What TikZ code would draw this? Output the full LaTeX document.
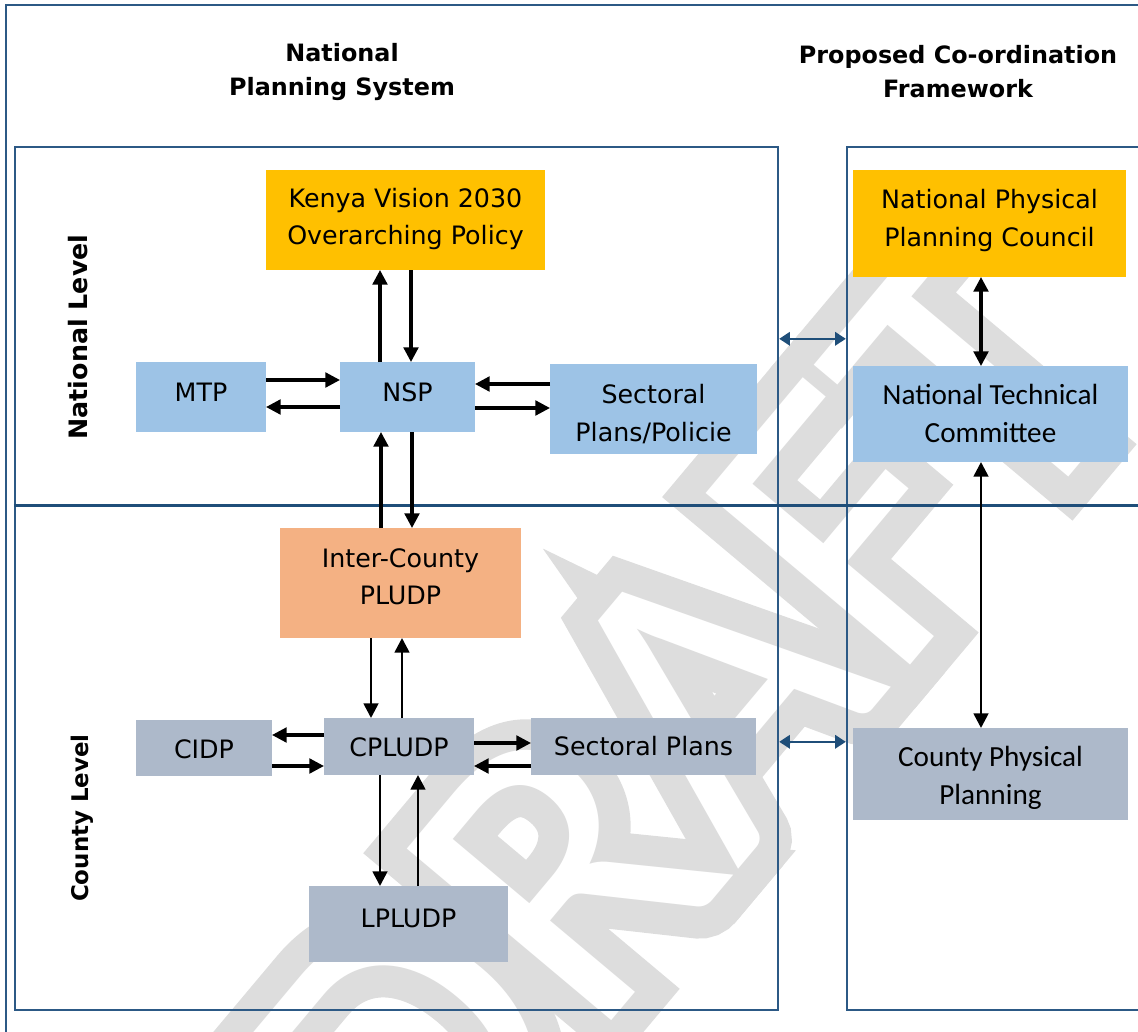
\documentclass[tikz,border=0pt]{standalone}
\usepackage{fontspec}
\setmainfont{DejaVu Sans}
\newfontfamily\calfont{Carlito}
\newfontfamily\wmfont{Carlito}
\newfontfamily\wmbold[FakeBold=15]{Carlito}
\usetikzlibrary{arrows.meta,calc}
\definecolor{gold}{HTML}{FFC000}
\definecolor{lblue}{HTML}{9DC3E6}
\definecolor{gblue}{HTML}{ADB9CA}
\definecolor{orng}{HTML}{F4B183}
\definecolor{panel}{HTML}{2C5985}
\definecolor{divider}{HTML}{1F4E79}
\definecolor{wmgray}{HTML}{DDDDDD}
\tikzset{
  box/.style={rectangle, inner sep=0pt, outer sep=0pt},
  txt/.style={inner sep=0pt, align=center, font=\fontsize{19}{28}\selectfont},
  caltxt/.style={txt, font=\calfont\fontsize{21.9}{28.5}\selectfont},
  title/.style={align=center, inner sep=0pt, font=\bfseries\fontsize{17.9}{25.5}\selectfont},
  side/.style={rotate=90, inner sep=0pt, font=\bfseries\fontsize{19}{19}\selectfont},
  panelbox/.style={rectangle, draw=panel, line width=1.8pt, inner sep=0pt},
  arr/.style={-{Triangle[length=11pt,width=11pt]}, line width=2.4pt},
  dbl/.style={{Triangle[length=11pt,width=11pt]}-{Triangle[length=11pt,width=11pt]}, line width=2.4pt},
  blu/.style={{Triangle[length=8pt,width=10pt]}-{Triangle[length=8pt,width=10pt]}, draw=divider, line width=1.6pt},
}
\begin{document}
\begin{tikzpicture}[x=0.75pt,y=-0.75pt]
\useasboundingbox (0,0) rectangle (1138,1031);
% watermark (outlined letters)
\node[rotate=50, anchor=base west, inner sep=0pt, font=\fontsize{312}{312}\selectfont] (wm) at (428,1240)
  {\wmbold\textcolor{wmgray}{DRAFT}\llap{\wmfont\textcolor{white}{DRAFT}}};
% outer frame
\draw[draw=panel, line width=1.8pt] (6,1040) -- (6,5) -- (1145,5);
% panels
\node[panelbox, minimum width=572.25pt, minimum height=647.25pt] (lpanel) at (396.5,578.5) {};
\node[panelbox, minimum width=234.75pt, minimum height=647.25pt] (rpanel) at (1003.5,578.5) {};
\draw[draw=divider, line width=2.3pt] ($(lpanel.north west)+(0,360)$) -- ++(1150,0);
% titles
\node[title] (t1) at (342,72) {National\\Planning System};
\node[title] (t2) at (958,72) {Proposed Co-ordination\\Framework};
\node[side] (s1) at (78,337) {National Level};
\node[side, font=\bfseries\fontsize{17.2}{17.2}\selectfont] (s2) at (82,818) {County Level};
% boxes
\node[box, fill=gold, minimum width=209.25pt, minimum height=75pt] (kenya) at (405.5,220) {};
\node[txt] (kenya-t) at ($(kenya)+(0,-1)$) {Kenya Vision 2030\\Overarching Policy};
\node[box, fill=gold, minimum width=204.75pt, minimum height=80.25pt] (nppc) at (989.5,223.5) {};
\node[txt] (nppc-t) at ($(nppc)+(0,-3)$) {National Physical\\Planning Council};
\node[box, fill=lblue, minimum width=97.5pt, minimum height=52.5pt] (mtp) at (201,397) {};
\node[txt] (mtp-t) at ($(mtp)+(0,-5)$) {MTP};
\node[box, fill=lblue, minimum width=101.25pt, minimum height=52.5pt] (nsp) at (407.5,397) {};
\node[txt] (nsp-t) at ($(nsp)+(0,-5)$) {NSP};
\node[box, fill=lblue, minimum width=155.25pt, minimum height=67.5pt] (secp) at (653.5,409) {};
\node[txt] (secp-t) at ($(secp)+(0,5)$) {Sectoral\\Plans/Policie};
\node[box, fill=lblue, minimum width=206.25pt, minimum height=72pt] (ntc) at (990.5,414) {};
\node[caltxt] (ntc-t) at ($(ntc)+(0,-1)$) {National Technical\\Committee};
\node[box, fill=orng, minimum width=180.75pt, minimum height=82.5pt] (inter) at (400.5,583) {};
\node[txt] (inter-t) at ($(inter)+(0,-6)$) {Inter-County\\PLUDP};
\node[box, fill=gblue, minimum width=102pt, minimum height=42pt] (cidp) at (204,748) {};
\node[txt] (cidp-t) at ($(cidp)+(0,1)$) {CIDP};
\node[box, fill=gblue, minimum width=112.5pt, minimum height=42.75pt] (cpludp) at (399,746.5) {};
\node[txt] (cpludp-t) at ($(cpludp)+(0,1)$) {CPLUDP};
\node[box, fill=gblue, minimum width=168.75pt, minimum height=42.75pt] (secplans) at (643.5,746.5) {};
\node[txt] (secplans-t) at (secplans) {Sectoral Plans};
\node[box, fill=gblue, minimum width=206.25pt, minimum height=69pt] (cpp) at (990.5,774) {};
\node[caltxt] (cpp-t) at ($(cpp)+(0,4)$) {County Physical\\Planning};
\node[box, fill=gblue, minimum width=149.25pt, minimum height=57pt] (lpludp) at (408.5,924) {};
\node[txt] (lpludp-t) at ($(lpludp)+(0,-6)$) {LPLUDP};
% arrows national level
\draw[arr] ($(nsp.north)+(-27.5,0)$) coordinate (a1) -- (a1 |- kenya.south);
\draw[arr] ($(kenya.south)+(5.5,0)$) coordinate (a2) -- (a2 |- nsp.north);
\draw[arr] ($(mtp.east)+(0,-17)$) coordinate (a3) -- (a3 -| nsp.west);
\draw[arr] ($(nsp.west)+(0,10)$) coordinate (a4) -- (a4 -| mtp.east);
\draw[arr] ($(secp.west)+(0,-25)$) coordinate (a5) -- (a5 -| nsp.east);
\draw[arr] ($(nsp.east)+(0,11)$) coordinate (a6) -- (a6 -| secp.west);
\draw[arr] ($(inter.north)+(-19.5,0)$) coordinate (a7) -- (a7 |- nsp.south);
\draw[arr] ($(nsp.south)+(4.5,0)$) coordinate (a8) -- (a8 |- inter.north);
% arrows county level
\draw[arr, line width=2pt] ($(inter.south)+(-29.5,0)$) coordinate (b1) -- (b1 |- cpludp.north);
\draw[arr, line width=2pt] ($(cpludp.north)+(3,0)$) coordinate (b2) -- (b2 |- inter.south);
\draw[arr] ($(cpludp.west)+(0,-11.5)$) coordinate (b3) -- (b3 -| cidp.east);
\draw[arr] ($(cidp.east)+(0,18)$) coordinate (b4) -- (b4 -| cpludp.west);
\draw[arr] ($(cpludp.east)+(0,-3.5)$) coordinate (b5) -- (b5 -| secplans.west);
\draw[arr] ($(secplans.west)+(0,19.5)$) coordinate (b6) -- (b6 -| cpludp.east);
\draw[arr, line width=2pt] ($(cpludp.south)+(-19,0)$) coordinate (b7) -- (b7 |- lpludp.north);
\draw[arr, line width=2pt] ($(lpludp.north)+(9.5,0)$) coordinate (b8) -- (b8 |- cpludp.south);
% framework arrows
\draw[dbl] ($(nppc.south)+(-8.5,0)$) coordinate (c1) -- (c1 |- ntc.north);
\draw[dbl, line width=2pt] ($(ntc.south)+(-9.5,0)$) coordinate (c2) -- (c2 |- cpp.north);
\draw[blu] ($(lpanel.north east)+(0,193)$) coordinate (d1) -- (d1 -| rpanel.west);
\draw[blu] ($(lpanel.north east)+(0,596)$) coordinate (d2) -- (d2 -| rpanel.west);
\end{tikzpicture}
\end{document}
